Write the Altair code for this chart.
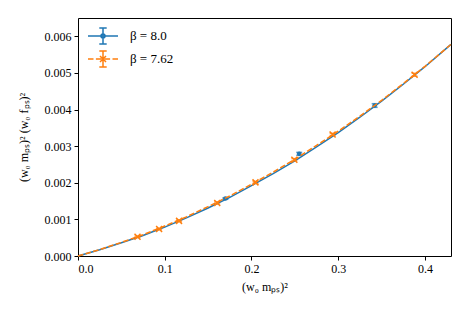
import altair as alt
import pandas as pd

# --- data ---
labels = ["β = 8.0", "β = 7.62"]
colors = ["#1f77b4", "#ff7f0e"]

b8_x = [0.170, 0.255, 0.342]
b8_y = [0.00157, 0.00279, 0.00411]
b8_err = [0.00002, 0.00004, 0.00005]

b762_x = [0.0686, 0.0935, 0.1165, 0.1605, 0.2046, 0.2494, 0.2935, 0.388]
b762_y = [0.000525, 0.000736, 0.000960, 0.00145, 0.00201, 0.00263, 0.00332, 0.00495]
b762_err = [0.00002, 0.00002, 0.00002, 0.00003, 0.00003, 0.00003, 0.00003, 0.00004]

fit_x = [0, 0.025, 0.05, 0.075, 0.1, 0.125, 0.15, 0.175, 0.2, 0.225, 0.25,
         0.275, 0.3, 0.325, 0.35, 0.375, 0.4, 0.43]
fit_b8 = [0, 0.00017, 0.00036, 0.00056, 0.00079, 0.00104, 0.00131, 0.00160,
          0.00192, 0.00225, 0.00260, 0.00298, 0.00337, 0.00379, 0.00423,
          0.00469, 0.00517, 0.00578]
fit_b762 = [0, 0.000175, 0.00037, 0.00058, 0.00082, 0.00107, 0.00135, 0.00164,
            0.00196, 0.00229, 0.00264, 0.00302, 0.00341, 0.00382, 0.00425,
            0.00471, 0.00518, 0.00578]

x_ticks = [0.0, 0.1, 0.2, 0.3, 0.4]
y_ticks = [0.000, 0.001, 0.002, 0.003, 0.004, 0.005, 0.006]

FONT = "Liberation Serif"

pts8 = pd.DataFrame({"x": b8_x, "y": b8_y, "e": b8_err})
pts762 = pd.DataFrame({"x": b762_x, "y": b762_y, "e": b762_err})
for d in (pts8, pts762):
    d["lo"] = d["y"] - d["e"]
    d["hi"] = d["y"] + d["e"]
fit8 = pd.DataFrame({"x": fit_x, "y": fit_b8})
fit762 = pd.DataFrame({"x": fit_x, "y": fit_b762})
leg = pd.DataFrame({"s": labels, "x": [b8_x[0], b762_x[0]], "y": [b8_y[0], b762_y[0]]})

xs = alt.Scale(domain=[0, 0.43], nice=False, zero=False)
ys = alt.Scale(domain=[0, 0.0065], nice=False, zero=False)
XT = "(w₀ mₚₛ)²"
YT = "(w₀ mₚₛ)² (w₀ fₚₛ)²"
xaxis = alt.Axis(values=x_ticks, format=".1f", labelOverlap=False,
                 labelFont=FONT, titleFont=FONT)
yaxis = alt.Axis(values=y_ticks, format=".3f", labelOverlap=False,
                 labelFont=FONT, titleFont=FONT)


def X(f):
    return alt.X(f"{f}:Q", scale=xs, title=XT, axis=xaxis)


def Y(f):
    return alt.Y(f"{f}:Q", scale=ys, title=YT, axis=yaxis)


def series(fit, pts, color, dash, shape, size, filled):
    kw = {"strokeDash": dash} if dash else {}
    line = alt.Chart(fit).mark_line(color=color, strokeWidth=1.5, **kw).encode(x=X("x"), y=Y("y"))
    bars = alt.Chart(pts).mark_rule(color=color, strokeWidth=1.5).encode(
        x=X("x"), y=Y("lo"), y2="hi:Q")
    cap_lo = alt.Chart(pts).mark_tick(color=color, orient="horizontal", size=6, thickness=1.5).encode(
        x=X("x"), y=Y("lo"))
    cap_hi = alt.Chart(pts).mark_tick(color=color, orient="horizontal", size=6, thickness=1.5).encode(
        x=X("x"), y=Y("hi"))
    mk = alt.Chart(pts).mark_point(color=color, shape=shape, size=size, filled=filled,
                                   strokeWidth=1.5, opacity=1).encode(x=X("x"), y=Y("y"))
    return [line, bars, cap_lo, cap_hi, mk]


layers = []
layers += series(fit8, pts8, colors[0], None, "circle", 22, True)
layers += series(fit762, pts762, colors[1], [5.5, 2.4], "M-1,-1L1,1M-1,1L1,-1", 36, False)

# legend glyphs (unit = 10 px): line, error bar with caps, marker
sym8 = ("M-1.5,0L1.5,0M0,-0.8L0,0.8M-0.37,-0.8L0.37,-0.8M-0.37,0.8L0.37,0.8"
        "M0.2,0A0.2,0.2 0 1,1 -0.2,0A0.2,0.2 0 1,1 0.2,0")
sym762 = ("M-1.5,0L-0.95,0M-0.71,0L-0.16,0M0.16,0L0.71,0M0.95,0L1.5,0"
          "M0,-0.8L0,0.8M-0.37,-0.8L0.37,-0.8M-0.37,0.8L0.37,0.8"
          "M-0.3,-0.3L0.3,0.3M-0.3,0.3L0.3,-0.3")

legend_layer = alt.Chart(leg).mark_point(opacity=0, filled=False, strokeWidth=1.5).encode(
    x=X("x"), y=Y("y"),
    color=alt.Color("s:N", scale=alt.Scale(domain=labels, range=colors), title=None,
                    legend=alt.Legend(orient="none", legendX=14, legendY=7,
                                      symbolOpacity=1, symbolSize=400,
                                      symbolStrokeWidth=1.5, labelFont=FONT, labelFontSize=13,
                                      labelColor="black", labelOffset=16, rowPadding=1,
                                      symbolFillColor="transparent")),
    shape=alt.Shape("s:N", scale=alt.Scale(domain=labels, range=[sym8, sym762]), title=None),
)
layers.append(legend_layer)

chart = alt.layer(*layers).properties(
    width=373, height=238,
    autosize=alt.AutoSizeParams(type="none"),
    padding={"left": 70, "top": 10, "right": 10, "bottom": 50},
).configure(font=FONT).configure_view(stroke="black", strokeWidth=1).configure_axis(
    domain=False, grid=False, tickColor="black", tickSize=4, tickWidth=1,
    labelFont=FONT, labelFontSize=12, labelColor="black", labelPadding=3,
    titleFont=FONT, titleFontSize=12, titleColor="black", titleFontWeight="normal",
).configure_axisX(titlePadding=7).configure_axisY(titlePadding=14)

chart.save("out.html", embed_options={"renderer": "svg", "actions": False})
